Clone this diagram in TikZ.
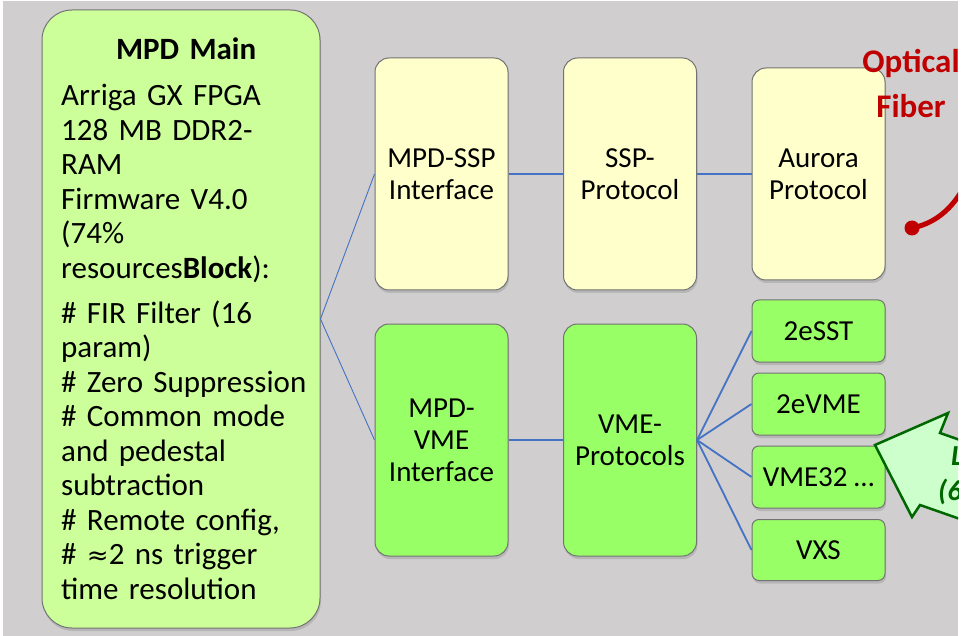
\documentclass[tikz,border=0pt]{standalone}
\usepackage{fontspec}
\setmainfont{Carlito}
\usetikzlibrary{shadows}

\definecolor{slidegray}{RGB}{208,206,207}
\definecolor{maingreen}{RGB}{204,255,153}
\definecolor{boxyellow}{RGB}{255,255,204}
\definecolor{boxgreen}{RGB}{153,255,102}
\definecolor{linkblue}{RGB}{68,114,196}
\definecolor{fiberred}{RGB}{192,0,0}
\definecolor{arrowfill}{RGB}{204,255,204}
\definecolor{arrowgreen}{RGB}{0,102,0}

\tikzset{
    block/.style={draw=black!55, line width=1pt, inner sep=0pt, align=center,
	font=\fontsize{29}{32}\selectfont,
	drop shadow={shadow xshift=1pt, shadow yshift=-3pt, opacity=0.3}},
    bigblock/.style={block, rounded corners=14pt, minimum width=133pt, minimum height=232pt},
    smallblock/.style={block, rounded corners=7pt, fill=boxgreen, minimum width=133pt, minimum height=62pt},
    link/.style={draw=linkblue, line width=1.8pt},
    thinlink/.style={draw=linkblue, line width=0.9pt}
}

\begin{document}
\begin{tikzpicture}[x=1pt, y=-1pt]
    \useasboundingbox (0, 0) rectangle (961, 636);
    \fill[white] (0, 0) rectangle (961, 636);
    \fill[slidegray] (3, 1) rectangle (958, 636);

    % board
    \node[block, rounded corners=30pt, fill=maingreen, minimum width=278pt, minimum height=618pt]
	(main) at (181, 319) {};
    \node[anchor=north west, inner sep=0pt, align=left, text width=256pt,
	font=\fontsize{31}{34.5}\selectfont] (maintext) at (61, 38)
	{\makebox[250pt][c]{\bfseries MPD Main}\\[11.5pt]
	Arriga GX FPGA\\
	128 MB DDR2-\\
	RAM\\
	Firmware V4.0\\
	(74\%\\
	resources\textbf{Block}):\\[10.5pt]
	\# FIR Filter (16\\
	param)\\
	\# Zero Suppression\\
	\# Common mode\\
	and pedestal\\
	subtraction\\
	\# Remote config,\\
	\# {\fontspec{DejaVu Sans}\fontsize{26}{34.5}\selectfont ≈}2 ns trigger\\
	time resolution};

    % optical path
    \node[bigblock, fill=boxyellow] (sspif) at (441.5, 174) {MPD-SSP\\Interface};
    \node[bigblock, fill=boxyellow] (sspprot) at (630, 174) {SSP-\\Protocol};
    \node[bigblock, fill=boxyellow, minimum height=212pt] (aurora) at (818.5, 174) {Aurora\\Protocol};

    % VME path
    \node[bigblock, fill=boxgreen] (vmeif) at (441.5, 440) {MPD-\\VME\\Interface};
    \node[bigblock, fill=boxgreen] (vmeprot) at (630, 440) {VME-\\Protocols};
    \node[smallblock] (esst) at (818.5, 331) {2eSST};
    \node[smallblock] (evme) at (818.5, 404) {2eVME};
    \node[smallblock] (vmethirtytwo) at (818.5, 477) {VME32 …};
    \node[smallblock, minimum height=61pt] (vxs) at (818.5, 550) {VXS};

    \draw[thinlink] (main.east) -- (sspif.west);
    \draw[thinlink] (main.east) -- (vmeif.west);
    \draw[link] (sspif) -- (sspprot);
    \draw[link] (sspprot) -- (aurora);
    \draw[link] (vmeif) -- (vmeprot);
    \foreach \b in {esst, evme, vmethirtytwo, vxs}
	\draw[link] (vmeprot.east) -- (\b.west);

    \begin{scope}
	\clip (3, 1) rectangle (958, 636);

	% fiber
	\node[text=fiberred, align=center, font=\fontsize{33}{45}\selectfont\bfseries]
	    (fiber) at (911, 84) {Optical\\Fiber};
	\coordinate (fiberdot) at (912, 228);
	\coordinate (fiberend) at (972, 170);
	\draw[fiberred, line width=5pt] (fiberdot) .. controls (942, 222) and (960, 200) .. (fiberend);
	\fill[fiberred] (fiberdot) circle (7.5);

	% block arrow
	\draw[arrowgreen, fill=arrowfill, line width=2.5pt, line join=miter]
	    (875, 445) -- (948, 413) -- (940, 433) -- (1000, 454)
	    -- (1000, 533) -- (920, 505) -- (912, 517) -- cycle;
	\node[anchor=west, inner sep=0pt, text=arrowgreen, font=\fontsize{29}{32}\selectfont\bfseries\itshape]
	    (speed) at (951, 456) {L};
	\node[anchor=west, inner sep=0pt, text=arrowgreen, font=\fontsize{29}{32}\selectfont\bfseries\itshape]
	    (speednote) at (938, 492) {(6};
    \end{scope}
\end{tikzpicture}
\end{document}
